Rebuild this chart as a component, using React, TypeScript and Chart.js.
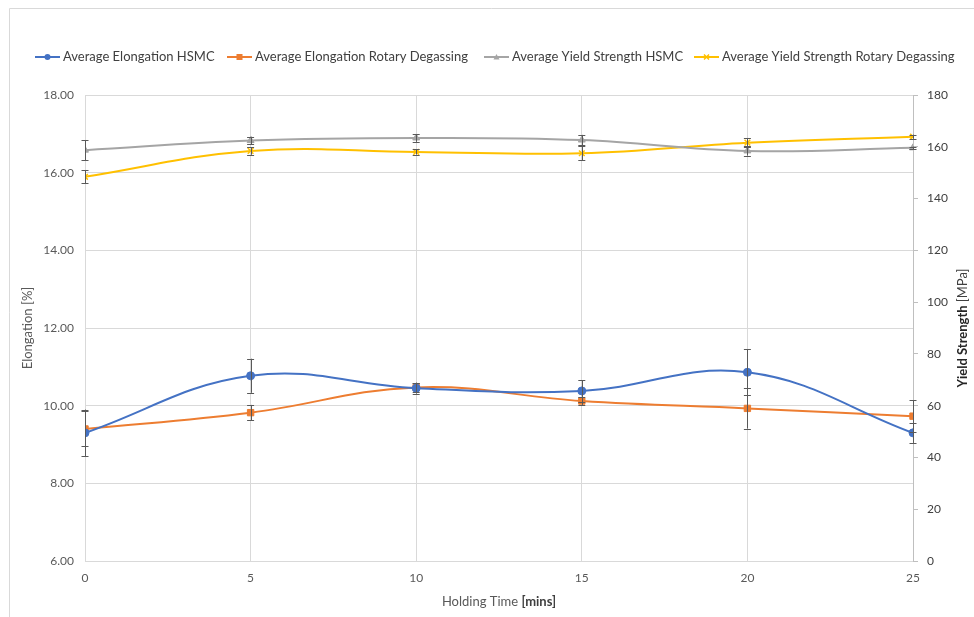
import React, { useEffect, useRef } from "react";
import { Chart, registerables } from "chart.js";

Chart.register(...registerables);

const times = [0, 5, 10, 15, 20, 25];
const elongHSMC = [9.3, 10.77, 10.45, 10.38, 10.86, 9.3];
const elongHSMCErr = [0.6, 0.44, 0.14, 0.28, 0.59, 0.26];
const elongRD = [9.4, 9.82, 10.47, 10.12, 9.93, 9.73];
const elongRDErr = [0.45, 0.2, 0.12, 0.1, 0.52, 0.41];
const ysHSMC = [158.7, 162.4, 163.4, 162.6, 158.4, 159.6];
const ysHSMCErr = [3.9, 1.5, 1.5, 2.0, 1.8, 0.5];
const ysRD = [148.4, 158.4, 158.0, 157.5, 161.6, 163.9];
const ysRDErr = [2.5, 1.5, 1.0, 2.7, 1.8, 0.8];

const seriesNames = [
  "Average Elongation HSMC",
  "Average Elongation Rotary Degassing",
  "Average Yield Strength HSMC",
  "Average Yield Strength Rotary Degassing",
];
const seriesColors = ["#4472C4", "#ED7D31", "#A5A5A5", "#FFC000"];
const seriesMarkers = ["circle", "rect", "triangle", "crossRot"];
const FONT = "Lato, 'Open Sans', sans-serif";

const errors = [elongHSMCErr, elongRDErr, ysHSMCErr, ysRDErr];

const errorBarPlugin = {
  id: "errorBars",
  afterDatasetsDraw(chart: any) {
    const ctx = chart.ctx;
    ctx.save();
    ctx.strokeStyle = "#595959";
    ctx.lineWidth = 1;
    chart.data.datasets.forEach((ds: any, i: number) => {
      const meta = chart.getDatasetMeta(i);
      const scale = chart.scales[ds.yAxisID];
      ds.data.forEach((p: any, j: number) => {
        const e = errors[i][j];
        const x = meta.data[j].x;
        const yTop = scale.getPixelForValue(p.y + e);
        const yBot = scale.getPixelForValue(p.y - e);
        ctx.beginPath();
        ctx.moveTo(Math.round(x) + 0.5, yTop);
        ctx.lineTo(Math.round(x) + 0.5, yBot);
        ctx.moveTo(x - 3.5, Math.round(yTop) + 0.5);
        ctx.lineTo(x + 3.5, Math.round(yTop) + 0.5);
        ctx.moveTo(x - 3.5, Math.round(yBot) + 0.5);
        ctx.lineTo(x + 3.5, Math.round(yBot) + 0.5);
        ctx.stroke();
      });
    });
    ctx.restore();
  },
};

function drawMarker(ctx: any, style: string, x: number, y: number, color: string) {
  ctx.fillStyle = color;
  ctx.strokeStyle = color;
  ctx.lineWidth = 1.5;
  ctx.beginPath();
  if (style === "circle") {
    ctx.arc(x, y, 3, 0, Math.PI * 2);
    ctx.fill();
  } else if (style === "rect") {
    ctx.fillRect(x - 3, y - 3, 6, 6);
  } else if (style === "triangle") {
    ctx.moveTo(x, y - 3);
    ctx.lineTo(x + 3, y + 2.5);
    ctx.lineTo(x - 3, y + 2.5);
    ctx.closePath();
    ctx.fill();
  } else {
    ctx.moveTo(x - 2.5, y - 2.5);
    ctx.lineTo(x + 2.5, y + 2.5);
    ctx.moveTo(x + 2.5, y - 2.5);
    ctx.lineTo(x - 2.5, y + 2.5);
    ctx.stroke();
  }
}

const decorPlugin = {
  id: "decor",
  afterDraw(chart: any) {
    const ctx = chart.ctx;
    const area = chart.chartArea;
    ctx.save();
    // frame
    ctx.strokeStyle = "#d9d9d9";
    ctx.lineWidth = 1;
    ctx.beginPath();
    ctx.moveTo(9.5, 617);
    ctx.lineTo(9.5, 8.5);
    ctx.lineTo(974, 8.5);
    ctx.stroke();

    // legend
    const legendX = [35, 227, 484, 694];
    const legendY = 57;
    ctx.textBaseline = "middle";
    ctx.textAlign = "left";
    ctx.font = `13px ${FONT}`;
    seriesNames.forEach((name, i) => {
      const x0 = legendX[i];
      ctx.strokeStyle = seriesColors[i];
      ctx.lineWidth = 2;
      ctx.beginPath();
      ctx.moveTo(x0, legendY);
      ctx.lineTo(x0 + 25, legendY);
      ctx.stroke();
      drawMarker(ctx, seriesMarkers[i], x0 + 12.5, legendY, seriesColors[i]);
      ctx.fillStyle = "#404040";
      ctx.fillText(name, x0 + 28, legendY);
    });

    // x title
    const cx = (area.left + area.right) / 2;
    ctx.textBaseline = "middle";
    const p1 = "Holding Time ";
    const p2 = "[mins]";
    ctx.font = `13px ${FONT}`;
    const w1 = ctx.measureText(p1).width;
    ctx.font = `bold 13px ${FONT}`;
    const w2 = ctx.measureText(p2).width;
    const sx = cx - (w1 + w2) / 2;
    ctx.font = `13px ${FONT}`;
    ctx.fillStyle = "#595959";
    ctx.fillText(p1, sx, 602);
    ctx.font = `bold 13px ${FONT}`;
    ctx.fillStyle = "#404040";
    ctx.fillText(p2, sx + w1, 602);

    // left title
    const cy = (area.top + area.bottom) / 2;
    ctx.save();
    ctx.translate(28, cy);
    ctx.rotate(-Math.PI / 2);
    ctx.textAlign = "center";
    ctx.font = `13px ${FONT}`;
    ctx.fillStyle = "#595959";
    ctx.fillText("Elongation [%]", 0, 0);
    ctx.restore();

    // right title
    ctx.save();
    ctx.translate(963, cy);
    ctx.rotate(-Math.PI / 2);
    ctx.textAlign = "left";
    const r1 = "Yield Strength ";
    const r2 = "[MPa]";
    ctx.font = `bold 13px ${FONT}`;
    const rw1 = ctx.measureText(r1).width;
    ctx.font = `13px ${FONT}`;
    const rw2 = ctx.measureText(r2).width;
    const rs = -(rw1 + rw2) / 2;
    ctx.font = `bold 13px ${FONT}`;
    ctx.fillStyle = "#262626";
    ctx.fillText(r1, rs, 0);
    ctx.font = `13px ${FONT}`;
    ctx.fillStyle = "#404040";
    ctx.fillText(r2, rs + rw1, 0);
    ctx.restore();

    ctx.restore();
  },
};

function mk(values: number[]) {
  return times.map((t, i) => ({ x: t, y: values[i] }));
}

export default function App() {
  const ref = useRef<HTMLCanvasElement | null>(null);
  useEffect(() => {
    document.body.style.margin = "0";
    const canvas = ref.current!;
    const sizes = [4, 4.5, 4, 4];
    const dataArr = [elongHSMC, elongRD, ysHSMC, ysRD];
    const axes = ["y", "y", "y1", "y1"];
    const chart = new Chart(canvas, {
      type: "line",
      data: {
        datasets: seriesNames.map((name, i) => ({
          label: name,
          data: mk(dataArr[i]),
          yAxisID: axes[i],
          borderColor: seriesColors[i],
          backgroundColor: seriesColors[i],
          borderWidth: 2,
          tension: 0.4,
          pointStyle: seriesMarkers[i] as any,
          pointRadius: sizes[i],
          pointBorderWidth: i === 3 ? 1.5 : 1,
          pointBackgroundColor: seriesColors[i],
          pointBorderColor: seriesColors[i],
          fill: false,
        })),
      },
      options: {
        animation: false,
        responsive: false,
        devicePixelRatio: 1,
        layout: { padding: { top: 95, left: 0, right: 0, bottom: 0 } },
        plugins: {
          legend: { display: false },
          tooltip: { enabled: false },
        },
        scales: {
          x: {
            type: "linear",
            min: 0,
            max: 25,
            ticks: { stepSize: 5, padding: 10, color: "#595959", font: { family: FONT, size: 12 } },
            grid: { color: "#d9d9d9", drawTicks: false },
            border: { color: "#d9d9d9" },
            afterFit: (s: any) => {
              s.height = 56;
            },
          },
          y: {
            position: "left",
            min: 6,
            max: 18,
            ticks: {
              stepSize: 2,
              padding: 11,
              color: "#595959",
              font: { family: FONT, size: 12 },
              callback: (v: any) => Number(v).toFixed(2),
            },
            grid: { color: "#d9d9d9", drawTicks: false },
            border: { display: false },
            afterFit: (s: any) => {
              s.width = 85;
            },
          },
          y1: {
            position: "right",
            min: 0,
            max: 180,
            ticks: { stepSize: 20, padding: 9, color: "#404040", font: { family: FONT, size: 12 } },
            grid: { drawOnChartArea: false, tickLength: 5, color: "#bfbfbf" },
            border: { color: "#bfbfbf" },
            afterFit: (s: any) => {
              s.width = 61;
            },
          },
        },
      } as any,
      plugins: [errorBarPlugin, decorPlugin],
    });
    return () => chart.destroy();
  }, []);
  return <canvas ref={ref} width={974} height={617} style={{ display: "block" }} />;
}
